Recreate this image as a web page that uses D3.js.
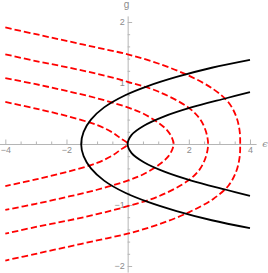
<!DOCTYPE html>
<html>
<head>
<meta charset="utf-8">
<script src="https://cdn.jsdelivr.net/npm/d3@7"></script>
<style>
  body { margin: 0; background: #fff; }
  svg { display: block; }
  .axis text { fill: #8c8c8c; font-family: "Liberation Sans", Arial, sans-serif; font-size: 9px; }
  .axis line, .axis path { stroke: #b5b5b5; }
</style>
</head>
<body>
<svg id="chart"></svg>
<script>
const width = 268;
const height = 273;

// black curves, upper half as [g, eps]; mirrored below g = 0
const blackOuter = [[0, -1.52], [0.2, -1.44], [0.4, -1.2], [0.6, -0.77], [0.8, -0.08], [0.95, 0.66], [1.1, 1.6], [1.25, 2.75], [1.38, 4.0]];
const blackInner = [[0, 0], [0.15, 0.13], [0.3, 0.53], [0.45, 1.18], [0.6, 2.08], [0.75, 3.22], [0.85, 4.0]];

// red dashed curves, upper half as [eps, g], from the left tail to the vertex
const red1 = [[-4, 0.69], [-3, 0.58], [-2, 0.46], [-1, 0.31], [-0.5, 0.19], [-0.25, 0.1], [0, 0]];
const red2 = [[-4, 1.08], [-3, 0.98], [-2, 0.87], [-1, 0.75], [0, 0.6], [0.5, 0.5], [1.0, 0.35], [1.3, 0.22], [1.45, 0.1], [1.5, 0]];
const red3 = [[-4, 1.47], [-3, 1.36], [-2, 1.26], [-1, 1.15], [0, 1.02], [1, 0.86], [1.98, 0.6], [2.35, 0.42], [2.55, 0.22], [2.63, 0]];
const red4 = [[-4, 1.91], [-3, 1.8], [-2, 1.69], [-1, 1.58], [0, 1.47], [1, 1.32], [2, 1.12], [2.8, 0.9], [3.3, 0.68], [3.55, 0.45], [3.66, 0.22], [3.68, 0]];

const xMajor = [-4, -2, 2, 4];
const yMajor = [-2, -1, 1, 2];

const svg = d3.select("#chart")
    .attr("width", width)
    .attr("height", height);

const x = d3.scaleLinear().domain([-4.2, 4.2]).range([-0.8, 256.1]);
const y = d3.scaleLinear().domain([-2.1, 2.1]).range([272.1, 15.9]);

// minor ticks
const xMinor = d3.range(-4, 4.01, 0.5).filter(v => !xMajor.includes(v) && v !== 0);
const yMinor = d3.range(-2, 2.01, 0.2).map(v => Math.round(v * 10) / 10).filter(v => !yMajor.includes(v) && v !== 0);

svg.append("g")
    .attr("class", "axis")
    .attr("transform", `translate(0,${y(0)})`)
    .call(d3.axisBottom(x).tickValues(xMinor).tickSize(-2.5).tickSizeOuter(0).tickFormat(""));

svg.append("g")
    .attr("class", "axis")
    .attr("transform", `translate(0,${y(0)})`)
    .call(d3.axisBottom(x).tickValues(xMajor).tickSize(-4.5).tickSizeOuter(0).tickPadding(3)
        .tickFormat(d => (d < 0 ? "\u2212" : "") + Math.abs(d)))
    .call(g => g.select(".domain").remove());

svg.append("g")
    .attr("class", "axis")
    .attr("transform", `translate(${x(0)},0)`)
    .call(d3.axisLeft(y).tickValues(yMinor).tickSize(-2.5).tickSizeOuter(0).tickFormat(""));

svg.append("g")
    .attr("class", "axis")
    .attr("transform", `translate(${x(0)},0)`)
    .call(d3.axisLeft(y).tickValues(yMajor).tickSize(-4.5).tickSizeOuter(0).tickPadding(3)
        .tickFormat(d => (d < 0 ? "\u2212" : "") + Math.abs(d)))
    .call(g => g.select(".domain").remove());

// axis labels
svg.append("text")
    .attr("x", 265)
    .attr("y", y(0))
    .attr("dy", "0.32em")
    .attr("text-anchor", "middle")
    .style("font-family", "'DejaVu Serif', serif")
    .style("font-style", "italic")
    .style("font-size", "10px")
    .style("fill", "#8c8c8c")
    .text("\u03f5");

svg.append("text")
    .attr("x", x(0) - 1)
    .attr("y", 8)
    .attr("text-anchor", "middle")
    .style("font-family", "'Liberation Sans', Arial, sans-serif")
    .style("font-size", "10px")
    .style("fill", "#8c8c8c")
    .text("g");

const line = d3.line()
    .x(d => x(d[0]))
    .y(d => y(d[1]))
    .curve(d3.curveCatmullRom.alpha(0.5));

// black: full curve from lower tail to upper tail, points as [eps, g]
function blackPoints(half) {
    const up = half.map(d => [d[1], d[0]]);
    const down = half.slice(1).map(d => [d[1], -d[0]]).reverse();
    return down.concat(up);
}

// red: upper tail -> vertex -> lower tail
function redPoints(half) {
    const down = half.slice(0, -1).map(d => [d[0], -d[1]]).reverse();
    return half.concat(down);
}

[red1, red2, red3, red4].forEach(r => {
    svg.append("path")
        .datum(redPoints(r))
        .attr("d", line)
        .attr("fill", "none")
        .attr("stroke", "#ff0000")
        .attr("stroke-width", 1.8)
        .attr("stroke-dasharray", "6.5,3");
});

[blackOuter, blackInner].forEach(b => {
    svg.append("path")
        .datum(blackPoints(b))
        .attr("d", line)
        .attr("fill", "none")
        .attr("stroke", "#000")
        .attr("stroke-width", 1.8);
});
</script>
</body>
</html>
